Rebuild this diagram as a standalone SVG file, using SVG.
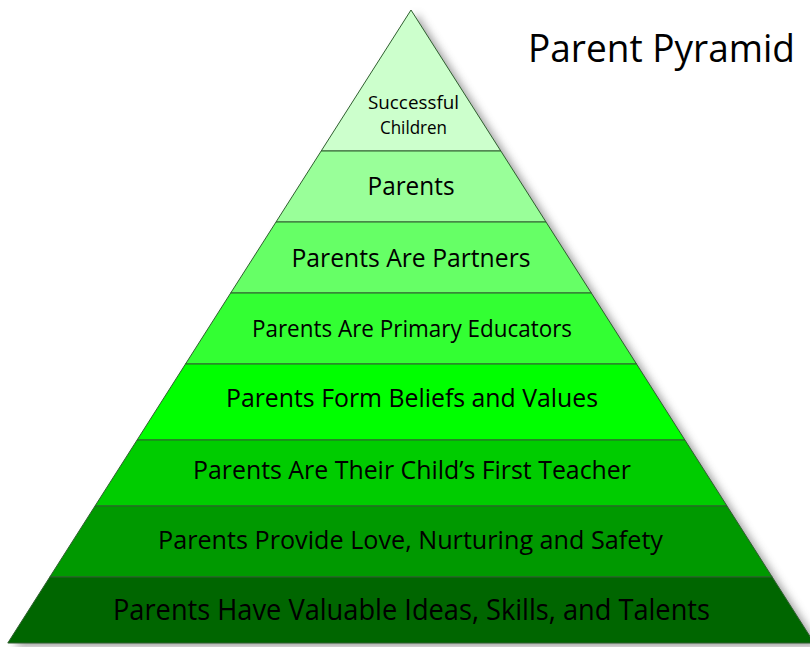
<svg xmlns="http://www.w3.org/2000/svg" width="810" height="647" viewBox="0 0 810 647">
  <defs>
    <filter id="shadow" x="-10%" y="-10%" width="120%" height="120%">
      <feGaussianBlur stdDeviation="4"/>
    </filter>
    <style>
      .band { stroke: #2f5f2f; stroke-width: 1; stroke-linejoin: miter; }
      .lbl { font-family: "Open Sans", "Noto Sans", "Liberation Sans", sans-serif; fill: #000; text-anchor: middle; }
      .title { font-family: "Open Sans", "Noto Sans", "Liberation Sans", sans-serif; fill: #000; }
    </style>
  </defs>
  <rect width="810" height="647" fill="#ffffff"/>
  <polygon points="417,14 820,647 14,647" fill="#555" opacity="0.55" filter="url(#shadow)"/>

  <g id="band-successful-children">
    <polygon class="band" points="411,10 500.8,151 321.2,151" fill="#ccffcc"/>
    <text class="lbl" x="413.5" y="109" font-size="18" textLength="91" lengthAdjust="spacingAndGlyphs">Successful</text>
    <text class="lbl" x="413.5" y="134" font-size="18" textLength="67" lengthAdjust="spacingAndGlyphs">Children</text>
  </g>
  <g id="band-parents">
    <polygon class="band" points="321.2,151 500.8,151 546,222 276,222" fill="#99ff99"/>
    <text class="lbl" x="411" y="195" font-size="25" textLength="87" lengthAdjust="spacingAndGlyphs">Parents</text>
  </g>
  <g id="band-partners">
    <polygon class="band" points="276,222 546,222 591.3,293 230.7,293" fill="#66ff66"/>
    <text class="lbl" x="411" y="267" font-size="26" textLength="239" lengthAdjust="spacingAndGlyphs">Parents Are Partners</text>
  </g>
  <g id="band-primary-educators">
    <polygon class="band" points="230.7,293 591.3,293 636.5,364 185.5,364" fill="#33ff33"/>
    <text class="lbl" x="412" y="337" font-size="23" textLength="320" lengthAdjust="spacingAndGlyphs">Parents Are Primary Educators</text>
  </g>
  <g id="band-beliefs-values">
    <polygon class="band" points="185.5,364 636.5,364 684.9,440 137.1,440" fill="#00ff00"/>
    <text class="lbl" x="412" y="407" font-size="25" textLength="372" lengthAdjust="spacingAndGlyphs">Parents Form Beliefs and Values</text>
  </g>
  <g id="band-first-teacher">
    <polygon class="band" points="137.1,440 684.9,440 727,506 95,506" fill="#00cc00"/>
    <text class="lbl" x="412" y="479" font-size="25" textLength="438" lengthAdjust="spacingAndGlyphs">Parents Are Their Child’s First Teacher</text>
  </g>
  <g id="band-love-safety">
    <polygon class="band" points="95,506 727,506 772.2,577 49.8,577" fill="#009900"/>
    <text class="lbl" x="410.5" y="549" font-size="25" textLength="505" lengthAdjust="spacingAndGlyphs">Parents Provide Love, Nurturing and Safety</text>
  </g>
  <g id="band-ideas-skills-talents">
    <polygon class="band" points="49.8,577 772.2,577 814.2,643 7.8,643" fill="#006600"/>
    <text class="lbl" x="411.5" y="620" font-size="29" textLength="597" lengthAdjust="spacingAndGlyphs">Parents Have Valuable Ideas, Skills, and Talents</text>
  </g>

  <g id="title">
    <text class="title" x="528" y="62" font-size="38" textLength="267" lengthAdjust="spacingAndGlyphs">Parent Pyramid</text>
  </g>
</svg>
